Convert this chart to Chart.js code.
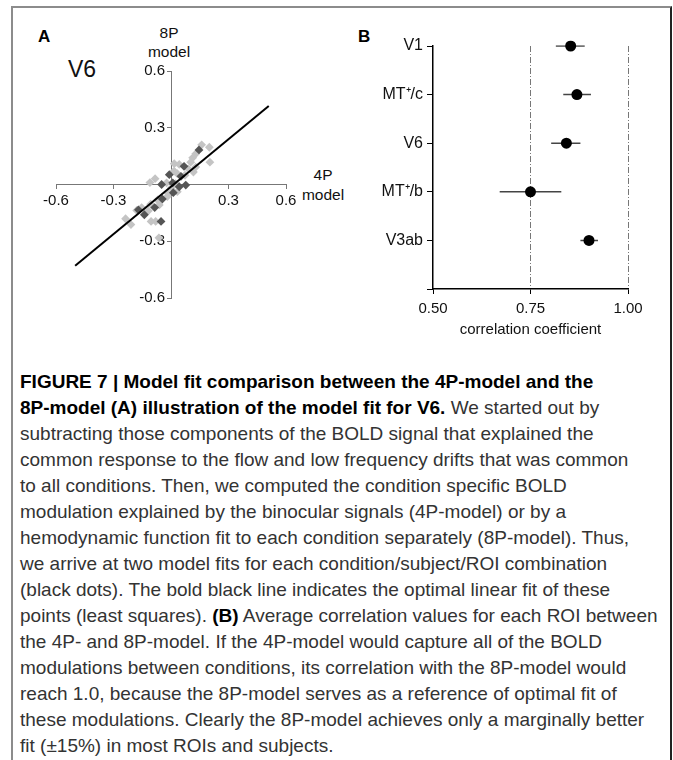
<!DOCTYPE html>
<html>
<head>
<meta charset="utf-8">
<script src="https://cdn.jsdelivr.net/npm/chart.js@4.4.1/dist/chart.umd.min.js"></script>
<style>
    body { margin: 0; width: 673px; height: 760px; background: #fff; overflow: hidden; position: relative; font-family: "Liberation Sans", Arial, sans-serif; }
    #frame { position: absolute; left: 11px; top: 6px; width: 657px; height: 800px; border-left: 2px solid #8c8c8c; border-top: 2px solid #8c8c8c; border-right: 2px solid #222; }
    .lbl { position: absolute; color: #111; white-space: nowrap; }
    .cap { position: absolute; left: 20px; font-size: 19px; line-height: 26px; color: #333; white-space: nowrap; }
    .cap b { color: #000; }
    canvas { position: absolute; }
</style>
</head>
<body>
<div id="frame"></div>

<div class="lbl" style="left:38px; top:27px; font-size:17px; font-weight:bold; color:#000;">A</div>
<div class="lbl" style="left:358px; top:27px; font-size:17px; font-weight:bold; color:#000;">B</div>
<div class="lbl" style="left:68px; top:56px; font-size:23px;">V6</div>
<div class="lbl" style="left:136px; top:23px; width:66px; text-align:center; font-size:15.5px; line-height:19px;">8P<br>model</div>
<div class="lbl" style="left:290px; top:165px; width:66px; text-align:center; font-size:15.5px; line-height:20px;">4P<br>model</div>

<canvas id="chartA" width="320" height="260" style="left:20px; top:55px;"></canvas>
<canvas id="chartB" width="320" height="335" style="left:340px; top:10px;"></canvas>

<div id="caption"></div>

<script>
    // panel A: 4P-model vs 8P-model fits for V6
    var lightX = [0.16, 0.20, 0.129, 0.113, 0.203, 0.103, 0.017, 0.043, 0.09, 0.129, 0.117, 0.016, 0.033, 0.073, -0.083, -0.11, -0.023, 0.024, 0.003, -0.014, 0.033, -0.019, -0.07, -0.106, -0.061, -0.153, -0.179, -0.118, -0.237, -0.209, -0.104, -0.08, -0.063];
    var lightY = [0.21, 0.197, 0.162, 0.141, 0.118, 0.118, 0.11, 0.106, 0.083, 0.092, 0.066, 0.071, 0.057, 0.049, 0.031, 0.01, 0.009, 0.005, -0.017, -0.047, -0.038, -0.064, -0.082, -0.104, -0.108, -0.122, -0.137, -0.139, -0.181, -0.212, -0.195, -0.195, -0.282];
    var darkX = [0.146, 0.068, -0.009, 0.052, -0.049, 0.009, 0.077, 0.043, 0.012, -0.045, -0.085, -0.139, -0.052, -0.17];
    var darkY = [0.183, 0.096, 0.052, 0.043, 0, 0.009, -0.003, -0.012, -0.043, -0.077, -0.122, -0.16, -0.195, -0.134];
    var fitX = [-0.5, 0.51];
    var fitY = [-0.43, 0.415];
    var axisTicksA = [-0.6, -0.3, 0, 0.3, 0.6];

    // panel B: mean correlation per ROI
    var rois = ['V1', 'MT\u207A/c', 'V6', 'MT\u207A/b', 'V3ab'];
    var meanCorr = [0.853, 0.869, 0.842, 0.75, 0.90];
    var lowCorr = [0.815, 0.834, 0.803, 0.671, 0.878];
    var highCorr = [0.889, 0.905, 0.878, 0.829, 0.923];
    var axisTicksB = [0.5, 0.75, 1.0];

    var captionLines = [
        '<b>FIGURE 7 | Model fit comparison between the 4P-model and the</b>',
        '<b>8P-model (A) illustration of the model fit for V6.</b> We started out by',
        'subtracting those components of the BOLD signal that explained the',
        'common response to the flow and low frequency drifts that was common',
        'to all conditions. Then, we computed the condition specific BOLD',
        'modulation explained by the binocular signals (4P-model) or by a',
        'hemodynamic function fit to each condition separately (8P-model). Thus,',
        'we arrive at two model fits for each condition/subject/ROI combination',
        '(black dots). The bold black line indicates the optimal linear fit of these',
        'points (least squares). <b>(B)</b> Average correlation values for each ROI between',
        'the 4P- and 8P-model. If the 4P-model would capture all of the BOLD',
        'modulations between conditions, its correlation with the 8P-model would',
        'reach 1.0, because the 8P-model serves as a reference of optimal fit of',
        'these modulations. Clearly the 8P-model achieves only a marginally better',
        'fit (\u00B115%) in most ROIs and subjects.'
    ];

    var html = '';
    for (var c = 0; c < captionLines.length; c++) {
        html += '<div class="cap" style="top:' + (369 + c * 26) + 'px">' + captionLines[c] + '</div>';
    }
    document.getElementById('caption').innerHTML = html;

    Chart.defaults.font.family = '"Liberation Sans", Arial, sans-serif';
    Chart.defaults.color = '#111';

    function toPoints(xs, ys) {
        var pts = [];
        for (var i = 0; i < xs.length; i++) {
            pts.push({ x: xs[i], y: ys[i] });
        }
        return pts;
    }

    var ctxA = document.getElementById('chartA').getContext('2d');
    var chartA = new Chart(ctxA, {
        type: 'scatter',
        data: {
            datasets: [{
                type: 'line',
                data: toPoints(fitX, fitY),
                showLine: true,
                borderColor: '#000',
                borderWidth: 2,
                pointRadius: 0
            }, {
                data: toPoints(darkX, darkY),
                pointStyle: 'rectRot',
                pointRadius: 4.4,
                backgroundColor: '#555',
                borderColor: '#555',
                borderWidth: 0
            }, {
                data: toPoints(lightX, lightY),
                pointStyle: 'rectRot',
                pointRadius: 4.4,
                backgroundColor: '#c4c4c4',
                borderColor: '#c4c4c4',
                borderWidth: 0
            }]
        },
        options: {
            responsive: false,
            animation: false,
            layout: { padding: { left: 36, right: 54, top: 16, bottom: 17 } },
            plugins: { legend: { display: false }, tooltip: { enabled: false } },
            scales: {
                x: {
                    type: 'linear',
                    position: { y: 0 },
                    min: axisTicksA[0],
                    max: axisTicksA[axisTicksA.length - 1],
                    afterBuildTicks: function (s) { s.ticks = axisTicksA.map(function (v) { return { value: v }; }); },
                    ticks: {
                        font: { size: 15 },
                        padding: 3,
                        maxRotation: 0,
                        callback: function (v) { return v === 0 ? '' : v.toFixed(1); }
                    },
                    grid: { drawOnChartArea: false, tickLength: 4, color: '#777' },
                    border: { color: '#777', width: 1 }
                },
                y: {
                    type: 'linear',
                    position: { x: 0 },
                    min: axisTicksA[0],
                    max: axisTicksA[axisTicksA.length - 1],
                    afterBuildTicks: function (s) { s.ticks = axisTicksA.map(function (v) { return { value: v }; }); },
                    ticks: {
                        font: { size: 15 },
                        // centred axis draws labels flush with the line, so pad with thin spaces
                        callback: function (v) { return v === 0 ? '' : v.toFixed(1) + '\u2009\u2009'; }
                    },
                    grid: { drawOnChartArea: false, tickLength: 4, color: '#777' },
                    border: { color: '#777', width: 1 }
                }
            }
        }
    });

    // panel B: dots and error bars
    var datasetsB = [{
        data: rois.map(function (r, i) { return { x: meanCorr[i], y: r }; }),
        pointStyle: 'circle',
        pointRadius: 5.5,
        backgroundColor: '#000',
        borderColor: '#000',
        borderWidth: 0
    }];
    for (var i = 0; i < rois.length; i++) {
        datasetsB.push({
            type: 'line',
            data: [{ x: lowCorr[i], y: rois[i] }, { x: highCorr[i], y: rois[i] }],
            showLine: true,
            borderColor: '#444',
            borderWidth: 1.5,
            pointRadius: 0
        });
    }

    var ctxB = document.getElementById('chartB').getContext('2d');
    var chartB = new Chart(ctxB, {
        type: 'scatter',
        data: { datasets: datasetsB },
        options: {
            responsive: false,
            animation: false,
            layout: { padding: { left: 33, right: 32, top: 36, bottom: 0 } },
            plugins: { legend: { display: false }, tooltip: { enabled: false } },
            scales: {
                x: {
                    type: 'linear',
                    min: axisTicksB[0],
                    max: axisTicksB[axisTicksB.length - 1],
                    afterBuildTicks: function (s) { s.ticks = axisTicksB.map(function (v) { return { value: v }; }); },
                    afterFit: function (s) { s.height = 56; },
                    ticks: {
                        font: { size: 15 },
                        padding: 6,
                        maxRotation: 0,
                        callback: function (v) { return v.toFixed(2); }
                    },
                    grid: {
                        color: function (ctx) { return ctx.tick && ctx.tick.value > 0.5 ? '#777' : 'rgba(0,0,0,0)'; },
                        lineWidth: 1,
                        tickColor: '#000',
                        tickLength: 5
                    },
                    border: { color: '#000', width: 1.5, dash: [6, 2, 1, 2] },
                    title: {
                        display: true,
                        text: 'correlation coefficient',
                        font: { size: 15 },
                        color: '#111',
                        padding: { top: 2, bottom: 6 }
                    }
                },
                y: {
                    type: 'category',
                    labels: rois.concat(['']),
                    offset: false,
                    afterFit: function (s) { s.width = 60; },
                    ticks: { font: { size: 16 }, padding: 4 },
                    grid: { drawOnChartArea: false, tickLength: 6, color: '#000' },
                    border: { color: '#000', width: 1.5 }
                }
            }
        }
    });
</script>
</body>
</html>
